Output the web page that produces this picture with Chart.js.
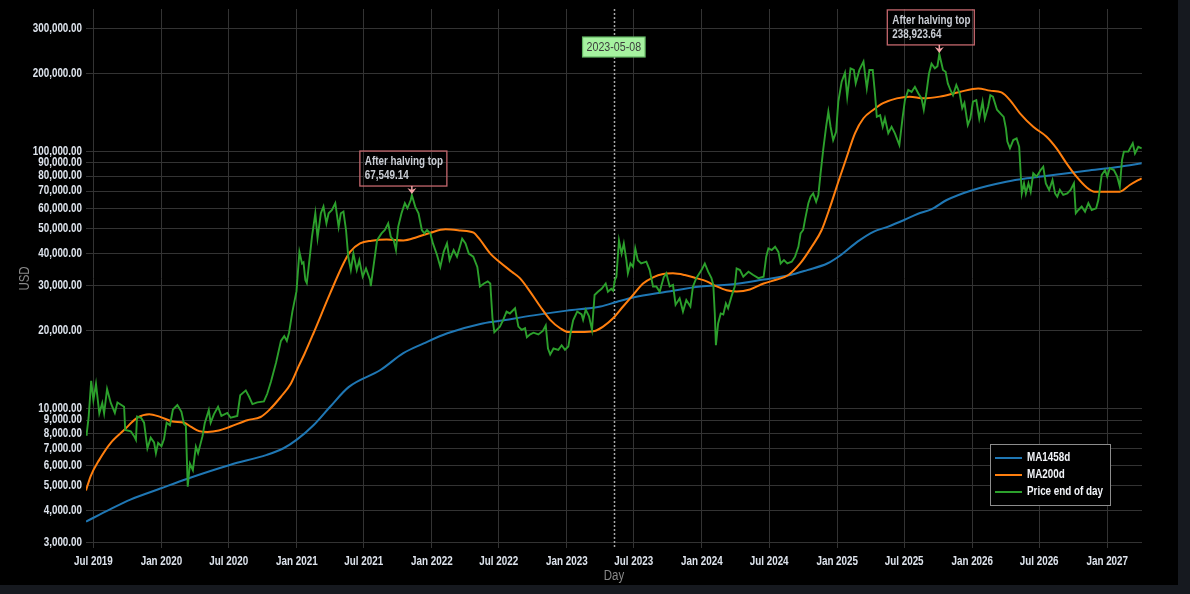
<!DOCTYPE html>
<html>
<head>
<meta charset="utf-8">
<script src="https://cdn.jsdelivr.net/npm/chart.js@4.4.0/dist/chart.umd.min.js"></script>
<style>
  html, body { margin: 0; padding: 0; background: #16191f; }
  #wrap { position: absolute; left: 0; top: 0; width: 1178px; height: 585px; background: #000; }
</style>
</head>
<body>
<div id="wrap"><canvas id="chart"></canvas></div>
<script>
// --- data ---
const ma1458 = [
  ['2019-06-11', 3630], ['2019-08-15', 4050], ['2019-10-09', 4420], ['2019-12-29', 4880],
  ['2020-03-11', 5330], ['2020-07-06', 6040], ['2020-10-12', 6600], ['2020-11-26', 7000],
  ['2021-01-01', 7560], ['2021-02-15', 8600], ['2021-04-01', 10150], ['2021-05-21', 12100],
  ['2021-08-15', 14100], ['2021-10-16', 16400], ['2021-12-10', 17900], ['2022-02-12', 19600],
  ['2022-05-12', 21300], ['2022-07-04', 21900], ['2022-10-03', 23000], ['2023-01-01', 24000],
  ['2023-04-02', 24900], ['2023-05-17', 26000], ['2023-06-29', 27000], ['2023-09-27', 28400],
  ['2023-12-28', 29800], ['2024-03-18', 30300], ['2024-06-16', 31700], ['2024-08-27', 33000],
  ['2024-10-12', 34500], ['2024-12-05', 36600], ['2025-01-11', 39500], ['2025-02-25', 44500],
  ['2025-04-10', 48700], ['2025-05-17', 50800], ['2025-07-01', 54000], ['2025-08-06', 57000],
  ['2025-09-12', 59400], ['2025-10-24', 64600], ['2026-01-03', 70700], ['2026-04-03', 76100],
  ['2026-05-29', 78500], ['2026-08-08', 80800], ['2026-11-06', 83900], ['2027-02-04', 87000],
  ['2027-04-04', 89700]
];

const ma200 = [
  ['2019-06-11', 4800], ['2019-06-24', 5470], ['2019-07-16', 6280], ['2019-08-17', 7350],
  ['2019-09-22', 8240], ['2019-10-28', 9200], ['2019-11-29', 9500], ['2019-12-30', 9250],
  ['2020-01-31', 8900], ['2020-03-02', 8800], ['2020-03-20', 8500], ['2020-04-12', 8160],
  ['2020-05-04', 8100], ['2020-06-04', 8200], ['2020-07-06', 8500], ['2020-08-20', 9000],
  ['2020-09-25', 9260], ['2020-10-18', 9850], ['2020-11-19', 11100], ['2020-12-16', 12500],
  ['2021-01-06', 14600], ['2021-01-21', 16200], ['2021-02-15', 19600], ['2021-04-01', 28000],
  ['2021-05-07', 36600], ['2021-05-25', 40600], ['2021-06-21', 43800], ['2021-07-22', 44900],
  ['2021-09-01', 45400], ['2021-10-16', 45000], ['2021-11-21', 46300], ['2021-12-28', 48200],
  ['2022-02-07', 49700], ['2022-03-19', 49200], ['2022-04-24', 48200], ['2022-05-08', 45900],
  ['2022-06-08', 40000], ['2022-07-04', 37000], ['2022-08-05', 34000], ['2022-08-27', 32100],
  ['2022-09-24', 28400], ['2022-10-21', 24900], ['2022-11-17', 22100], ['2022-12-14', 20500],
  ['2023-01-05', 19800], ['2023-02-05', 19800], ['2023-03-17', 20000], ['2023-04-09', 20800],
  ['2023-05-06', 22400], ['2023-06-02', 24900], ['2023-06-29', 27600], ['2023-07-26', 30600],
  ['2023-08-22', 32300], ['2023-09-18', 33300], ['2023-10-15', 33500], ['2023-11-16', 33000],
  ['2023-12-17', 32100], ['2024-01-14', 31200], ['2024-02-10', 29800], ['2024-03-08', 28800],
  ['2024-04-04', 28500], ['2024-05-10', 29000], ['2024-06-16', 30600], ['2024-07-22', 31700],
  ['2024-08-22', 33000], ['2024-09-23', 36600], ['2024-10-24', 42500], ['2024-11-20', 49400],
  ['2024-12-13', 60900], ['2025-01-04', 76100], ['2025-01-27', 95200], ['2025-02-18', 117400],
  ['2025-03-13', 134300], ['2025-04-09', 145000], ['2025-05-05', 153700], ['2025-06-11', 160500],
  ['2025-07-16', 163000], ['2025-08-22', 160500], ['2025-10-05', 163000], ['2025-11-28', 170000],
  ['2026-01-17', 175500], ['2026-02-18', 172000], ['2026-03-21', 169200], ['2026-04-13', 158000],
  ['2026-05-10', 140400], ['2026-06-15', 124500], ['2026-07-21', 113900], ['2026-08-17', 102600],
  ['2026-09-13', 89700], ['2026-10-10', 79600], ['2026-11-06', 72400], ['2026-11-28', 69600],
  ['2026-12-30', 69600], ['2027-02-04', 69600], ['2027-03-03', 73900], ['2027-04-04', 78500]
];

const price = [
  ['2019-06-11', 7900], ['2019-06-13', 8000], ['2019-06-18', 9200], ['2019-06-25', 12800],
  ['2019-07-01', 10780], ['2019-07-08', 12440], ['2019-07-17', 9570], ['2019-07-25', 10500],
  ['2019-07-30', 9570], ['2019-08-07', 11900], ['2019-08-17', 10500], ['2019-08-28', 9600],
  ['2019-09-04', 10550], ['2019-09-22', 10150], ['2019-09-25', 8240], ['2019-10-10', 8150],
  ['2019-10-19', 7800], ['2019-10-24', 7550], ['2019-10-27', 9300], ['2019-11-07', 9200],
  ['2019-11-15', 8800], ['2019-11-24', 7000], ['2019-12-03', 7700], ['2019-12-12', 7380],
  ['2019-12-17', 6700], ['2019-12-23', 7350], ['2020-01-01', 7130], ['2020-01-08', 7600],
  ['2020-01-15', 8800], ['2020-01-24', 8600], ['2020-02-01', 9900], ['2020-02-13', 10300],
  ['2020-02-24', 9700], ['2020-03-02', 8700], ['2020-03-07', 8550], ['2020-03-12', 4960],
  ['2020-03-18', 6100], ['2020-03-26', 5750], ['2020-04-03', 7100], ['2020-04-09', 6700],
  ['2020-04-21', 7800], ['2020-04-27', 8750], ['2020-05-08', 9850], ['2020-05-13', 8800],
  ['2020-05-22', 9500], ['2020-06-02', 10150], ['2020-06-11', 9350], ['2020-06-27', 9600],
  ['2020-07-06', 9200], ['2020-07-24', 9350], ['2020-08-01', 11250], ['2020-08-16', 11750],
  ['2020-08-25', 11100], ['2020-09-03', 10400], ['2020-09-16', 10550], ['2020-10-04', 10650],
  ['2020-10-13', 11400], ['2020-10-23', 12700], ['2020-11-06', 15100], ['2020-11-19', 18300],
  ['2020-11-28', 19100], ['2020-12-05', 18300], ['2020-12-11', 19700], ['2020-12-20', 23800],
  ['2020-12-31', 28500], ['2021-01-08', 40600], ['2021-01-15', 36600], ['2021-01-19', 37000],
  ['2021-01-24', 31600], ['2021-01-28', 30700], ['2021-02-01', 34500], ['2021-02-11', 46500],
  ['2021-02-20', 57400], ['2021-02-26', 46000], ['2021-03-07', 57400], ['2021-03-14', 60900],
  ['2021-03-22', 52400], ['2021-03-28', 57400], ['2021-04-06', 59100], ['2021-04-15', 62800],
  ['2021-04-24', 50800], ['2021-04-30', 57400], ['2021-05-07', 58200], ['2021-05-14', 49400],
  ['2021-05-20', 38900], ['2021-05-27', 34500], ['2021-06-03', 40000], ['2021-06-12', 34500],
  ['2021-06-19', 37700], ['2021-06-28', 32500], ['2021-07-07', 35000], ['2021-07-18', 31600],
  ['2021-07-20', 29900], ['2021-07-27', 35400], ['2021-08-06', 45100], ['2021-08-18', 47900],
  ['2021-08-27', 49400], ['2021-09-05', 52400], ['2021-09-12', 46500], ['2021-09-20', 45000],
  ['2021-09-26', 41300], ['2021-10-02', 50800], ['2021-10-11', 57400], ['2021-10-20', 62800],
  ['2021-10-27', 60000], ['2021-11-05', 64600], ['2021-11-08', 67549.14], ['2021-11-17', 60900],
  ['2021-11-26', 57400], ['2021-12-05', 49400], ['2021-12-12', 47900], ['2021-12-19', 49400],
  ['2021-12-28', 47900], ['2022-01-04', 43800], ['2022-01-15', 39500], ['2022-01-24', 35500],
  ['2022-02-02', 40600], ['2022-02-11', 43800], ['2022-02-18', 37700], ['2022-03-01', 41300],
  ['2022-03-10', 38900], ['2022-03-24', 45700], ['2022-04-02', 43800], ['2022-04-11', 40000],
  ['2022-04-23', 38900], ['2022-05-04', 35500], ['2022-05-11', 29800], ['2022-05-22', 30600],
  ['2022-06-01', 31200], ['2022-06-08', 30600], ['2022-06-14', 22400], ['2022-06-19', 19800],
  ['2022-07-04', 20800], ['2022-07-13', 22100], ['2022-07-22', 23800], ['2022-07-31', 23400],
  ['2022-08-14', 24500], ['2022-08-23', 20800], ['2022-09-01', 20200], ['2022-09-10', 20500],
  ['2022-09-15', 18900], ['2022-09-24', 19400], ['2022-10-03', 19700], ['2022-10-16', 19400],
  ['2022-10-28', 20000], ['2022-11-05', 21000], ['2022-11-11', 17100], ['2022-11-17', 16200],
  ['2022-11-26', 17100], ['2022-12-09', 16900], ['2022-12-18', 17600], ['2022-12-27', 16900],
  ['2023-01-05', 17400], ['2023-01-11', 19600], ['2023-01-18', 22000], ['2023-01-29', 23800],
  ['2023-02-10', 23200], ['2023-02-14', 22100], ['2023-02-21', 24200], ['2023-03-02', 22800],
  ['2023-03-10', 20200], ['2023-03-17', 27600], ['2023-03-26', 28400], ['2023-04-05', 29200],
  ['2023-04-16', 30600], ['2023-04-22', 28400], ['2023-05-01', 29200], ['2023-05-06', 28700],
  ['2023-05-11', 31600], ['2023-05-15', 32500], ['2023-05-22', 45000], ['2023-05-29', 40000],
  ['2023-06-04', 43800], ['2023-06-11', 37700], ['2023-06-15', 33500], ['2023-06-22', 36600],
  ['2023-06-29', 35500], ['2023-07-05', 41900], ['2023-07-12', 37700], ['2023-07-21', 36600],
  ['2023-08-04', 37200], ['2023-08-13', 34500], ['2023-08-22', 29800], ['2023-08-31', 29800],
  ['2023-09-09', 28400], ['2023-09-20', 32400], ['2023-09-27', 33500], ['2023-10-06', 29800],
  ['2023-10-15', 30200], ['2023-10-22', 25300], ['2023-11-02', 26800], ['2023-11-11', 23800],
  ['2023-11-20', 26400], ['2023-12-01', 24900], ['2023-12-08', 29800], ['2023-12-17', 32100],
  ['2023-12-31', 34500], ['2024-01-09', 36600], ['2024-01-18', 34000], ['2024-01-27', 32100],
  ['2024-02-01', 30200], ['2024-02-05', 23400], ['2024-02-08', 17600], ['2024-02-14', 21400],
  ['2024-02-21', 23400], ['2024-02-28', 23200], ['2024-03-06', 25600], ['2024-03-12', 24500],
  ['2024-03-21', 27200], ['2024-03-30', 29800], ['2024-04-04', 35000], ['2024-04-13', 34500],
  ['2024-04-22', 32500], ['2024-05-06', 34000], ['2024-05-19', 33000], ['2024-06-02', 32100],
  ['2024-06-16', 32500], ['2024-06-23', 38900], ['2024-06-29', 41900], ['2024-07-08', 41300],
  ['2024-07-17', 42500], ['2024-07-26', 40600], ['2024-08-01', 36600], ['2024-08-10', 37700],
  ['2024-08-19', 36600], ['2024-08-31', 37200], ['2024-09-09', 38900], ['2024-09-18', 42500],
  ['2024-09-24', 47900], ['2024-10-01', 49400], ['2024-10-06', 54200], ['2024-10-15', 62800],
  ['2024-10-21', 66500], ['2024-10-28', 68500], ['2024-11-05', 63600], ['2024-11-11', 67600],
  ['2024-11-17', 82000], ['2024-11-24', 101000], ['2024-12-02', 124500], ['2024-12-08', 142500],
  ['2024-12-14', 124500], ['2024-12-21', 110500], ['2024-12-29', 119000], ['2025-01-04', 155800],
  ['2025-01-13', 186300], ['2025-01-22', 202000], ['2025-01-28', 162800], ['2025-02-06', 210000],
  ['2025-02-15', 207000], ['2025-02-20', 183500], ['2025-03-02', 207000], ['2025-03-13', 223000],
  ['2025-03-22', 175700], ['2025-03-29', 207000], ['2025-04-07', 207000], ['2025-04-13', 168000],
  ['2025-04-18', 136100], ['2025-04-27', 138200], ['2025-05-04', 124500], ['2025-05-10', 134300],
  ['2025-05-19', 117400], ['2025-05-28', 124500], ['2025-06-06', 117400], ['2025-06-18', 105700],
  ['2025-06-27', 136000], ['2025-07-03', 158000], ['2025-07-12', 173000], ['2025-07-21', 170000],
  ['2025-07-30', 178000], ['2025-08-08', 168000], ['2025-08-17', 160500], ['2025-08-23', 145000],
  ['2025-08-30', 168000], ['2025-09-06', 200000], ['2025-09-13', 219000], ['2025-09-22', 210000],
  ['2025-09-29', 214000], ['2025-10-04', 238923.64], ['2025-10-14', 207000], ['2025-10-21', 203500],
  ['2025-10-27', 183500], ['2025-11-03', 173000], ['2025-11-10', 165000], ['2025-11-19', 181000],
  ['2025-11-28', 168000], ['2025-12-05', 147000], ['2025-12-11', 154000], ['2025-12-20', 126400],
  ['2025-12-27', 134300], ['2026-01-03', 155800], ['2026-01-12', 158000], ['2026-01-20', 134000],
  ['2026-01-29', 155800], ['2026-02-04', 134000], ['2026-02-13', 149000], ['2026-02-19', 165000],
  ['2026-02-26', 163000], ['2026-03-09', 145000], ['2026-03-18', 140400], ['2026-03-27', 136000],
  ['2026-04-02', 122800], ['2026-04-06', 109000], ['2026-04-13', 102600], ['2026-04-22', 110500],
  ['2026-05-01', 112200], ['2026-05-08', 104000], ['2026-05-15', 68500], ['2026-05-21', 75000],
  ['2026-05-26', 68500], ['2026-06-02', 75000], ['2026-06-08', 69600], ['2026-06-15', 82000],
  ['2026-06-24', 79600], ['2026-07-05', 84500], ['2026-07-12', 87000], ['2026-07-19', 75000],
  ['2026-07-28', 70700], ['2026-08-06', 77300], ['2026-08-13', 68500], ['2026-08-19', 66500],
  ['2026-08-26', 70700], ['2026-09-04', 67600], ['2026-09-15', 68500], ['2026-09-24', 70700],
  ['2026-10-03', 75000], ['2026-10-08', 57400], ['2026-10-15', 59100], ['2026-10-24', 60900],
  ['2026-11-02', 58200], ['2026-11-11', 62800], ['2026-11-20', 59100], ['2026-12-02', 60000],
  ['2026-12-08', 64600], ['2026-12-17', 80800], ['2026-12-26', 84500], ['2027-01-01', 79600],
  ['2027-01-08', 86000], ['2027-01-19', 84500], ['2027-01-28', 79600], ['2027-02-04', 72800],
  ['2027-02-10', 92400], ['2027-02-15', 99600], ['2027-02-27', 99600], ['2027-03-11', 107300],
  ['2027-03-17', 98000], ['2027-03-26', 104000], ['2027-04-04', 102600]
];

const yTicks = [3000, 4000, 5000, 6000, 7000, 8000, 9000, 10000,
  20000, 30000, 40000, 50000, 60000, 70000, 80000, 90000, 100000, 200000, 300000];
const xTicks = ['2019-07-01', '2020-01-01', '2020-07-01', '2021-01-01', '2021-07-01', '2022-01-01',
  '2022-07-01', '2023-01-01', '2023-07-01', '2024-01-01', '2024-07-01', '2025-01-01',
  '2025-07-01', '2026-01-01', '2026-07-01', '2027-01-01'];
const xRange = ['2019-06-11', '2027-04-05'];
const yRange = [2866, 357200];

const markerDate = '2023-05-08';
const peaks = [
  { date: '2021-11-08', value: 67549.14, label: 'After halving top' },
  { date: '2025-10-04', value: 238923.64, label: 'After halving top' }
];

// --- helpers ---
const FONT = "'Liberation Sans', Arial, sans-serif";
const NARROW = 0.82; // no narrow face installed, squeeze text horizontally instead
const MONTHS = ['Jan', 'Feb', 'Mar', 'Apr', 'May', 'Jun', 'Jul', 'Aug', 'Sep', 'Oct', 'Nov', 'Dec'];
const day = s => Date.parse(s);
const toPoints = rows => rows.map(r => ({ x: day(r[0]), y: r[1] }));
const usd = v => v.toLocaleString('en-US', { minimumFractionDigits: 2, maximumFractionDigits: 2 });

const canvas = document.getElementById('chart');
const ctx2d = canvas.getContext('2d');
const rawFillText = ctx2d.fillText.bind(ctx2d);
ctx2d.fillText = function (text, x, y) {
  this.save();
  this.translate(x, y);
  this.scale(NARROW, 1);
  rawFillText(text, 0, 0);
  this.restore();
};

const overlay = {
  id: 'overlay',
  beforeDatasetsDraw(chart) {
    const { ctx, chartArea, scales } = chart;
    const x = Math.round(scales.x.getPixelForValue(day(markerDate))) + 0.5;
    ctx.save();
    ctx.strokeStyle = '#a8a8a8';
    ctx.lineWidth = 1.5;
    ctx.setLineDash([2, 2]);
    ctx.beginPath();
    ctx.moveTo(x, chartArea.top);
    ctx.lineTo(x, chartArea.bottom);
    ctx.stroke();
    ctx.restore();
  },
  afterDatasetsDraw(chart) {
    const { ctx, chartArea, scales } = chart;
    ctx.save();

    // date label on the dotted line
    const mx = scales.x.getPixelForValue(day(markerDate));
    ctx.font = '13px ' + FONT;
    const tw = ctx.measureText(markerDate).width * NARROW;
    const bw = tw + 8, bh = 20, by = chartArea.top + 28;
    ctx.fillStyle = '#a6f2a0';
    ctx.fillRect(mx - bw / 2, by, bw, bh);
    ctx.strokeStyle = '#63b463';
    ctx.lineWidth = 1.2;
    ctx.strokeRect(mx - bw / 2, by, bw, bh);
    ctx.fillStyle = '#3c3c3c';
    ctx.textAlign = 'center';
    ctx.textBaseline = 'middle';
    ctx.fillText(markerDate, mx, by + bh / 2 + 0.5);

    // peak annotations
    peaks.forEach(p => {
      const px = scales.x.getPixelForValue(day(p.date));
      const py = scales.y.getPixelForValue(p.value);
      const left = px - 52, w = 87, h = 35, top = py - 9 - h;
      ctx.strokeStyle = '#c4676d';
      ctx.lineWidth = 1.3;
      ctx.strokeRect(left, top, w, h);
      ctx.font = 'bold 12px ' + FONT;
      ctx.fillStyle = '#c9cdd4';
      ctx.textAlign = 'left';
      ctx.textBaseline = 'middle';
      ctx.fillText(p.label, left + 5, top + 11);
      ctx.fillText(usd(p.value), left + 5, top + 25);
      // arrow
      ctx.strokeStyle = '#f4a3a6';
      ctx.fillStyle = '#f4a3a6';
      ctx.lineWidth = 1.5;
      ctx.beginPath();
      ctx.moveTo(px, top + h);
      ctx.lineTo(px, py - 4);
      ctx.stroke();
      ctx.beginPath();
      ctx.moveTo(px, py - 1);
      ctx.lineTo(px - 4.5, py - 7);
      ctx.lineTo(px, py - 5);
      ctx.lineTo(px + 4.5, py - 7);
      ctx.closePath();
      ctx.fill();
    });

    // legend
    const lw = 120, lh = 61;
    const lx = chartArea.right - 152, ly = chartArea.bottom - 104;
    ctx.fillStyle = '#000';
    ctx.fillRect(lx, ly, lw, lh);
    ctx.strokeStyle = '#8c8c8c';
    ctx.lineWidth = 1;
    ctx.strokeRect(lx + 0.5, ly + 0.5, lw, lh);
    ctx.font = 'bold 12px ' + FONT;
    ctx.textAlign = 'left';
    ctx.textBaseline = 'middle';
    const legendItems = chart.data.datasets.slice().sort((a, b) => a.legendIndex - b.legendIndex);
    legendItems.forEach((ds, i) => {
      const yy = ly + 14 + i * 17;
      ctx.strokeStyle = ds.borderColor;
      ctx.lineWidth = 2;
      ctx.beginPath();
      ctx.moveTo(lx + 5, yy);
      ctx.lineTo(lx + 32, yy);
      ctx.stroke();
      ctx.fillStyle = '#f2f4f8';
      ctx.fillText(ds.label, lx + 37, yy);
    });

    ctx.restore();
  }
};

Chart.defaults.font.family = FONT;

new Chart(ctx2d, {
  type: 'line',
  data: {
    datasets: [
      {
        label: 'MA1458d', data: toPoints(ma1458), borderColor: '#1f77b4', borderWidth: 2,
        pointRadius: 0, cubicInterpolationMode: 'monotone', order: 3, legendIndex: 0
      },
      {
        label: 'MA200d', data: toPoints(ma200), borderColor: '#ff7f0e', borderWidth: 2,
        pointRadius: 0, cubicInterpolationMode: 'monotone', order: 2, legendIndex: 1
      },
      {
        label: 'Price end of day', data: toPoints(price), borderColor: '#2ca02c', borderWidth: 1.9,
        pointRadius: 0, tension: 0, order: 1, legendIndex: 2
      }
    ]
  },
  options: {
    responsive: true,
    maintainAspectRatio: false,
    animation: false,
    layout: { autoPadding: false, padding: { left: 0, right: 36, top: 9, bottom: 0 } },
    plugins: { legend: { display: false }, tooltip: { enabled: false } },
    scales: {
      x: {
        type: 'linear',
        min: day(xRange[0]),
        max: day(xRange[1]),
        afterBuildTicks: s => { s.ticks = xTicks.map(t => ({ value: day(t) })); },
        afterFit: s => { s.height = 37; s.paddingLeft = 0; s.paddingRight = 0; },
        ticks: {
          autoSkip: false, maxRotation: 0, padding: 6,
          color: '#dde3ec', font: { size: 12, weight: 'bold' },
          callback: v => { const d = new Date(v); return MONTHS[d.getUTCMonth()] + ' ' + d.getUTCFullYear(); }
        },
        grid: { color: '#333333', drawTicks: false },
        border: { display: false },
        title: { display: true, text: 'Day', color: '#8a8a8a', font: { size: 14 }, padding: { top: 0, bottom: 0 } }
      },
      y: {
        type: 'logarithmic',
        min: yRange[0],
        max: yRange[1],
        afterBuildTicks: s => { s.ticks = yTicks.map(v => ({ value: v })); },
        afterFit: s => { s.width = 86; s.paddingTop = 0; s.paddingBottom = 0; },
        ticks: {
          autoSkip: false, padding: 4,
          color: '#dde3ec', font: { size: 12, weight: 'bold', lineHeight: 1 },
          callback: v => usd(v)
        },
        grid: { color: '#333333', drawTicks: false },
        border: { display: false },
        title: { display: true, text: 'USD', color: '#8a8a8a', font: { size: 14 }, padding: { top: 16.6, bottom: 0 } }
      }
    }
  },
  plugins: [overlay]
});
</script>
</body>
</html>
